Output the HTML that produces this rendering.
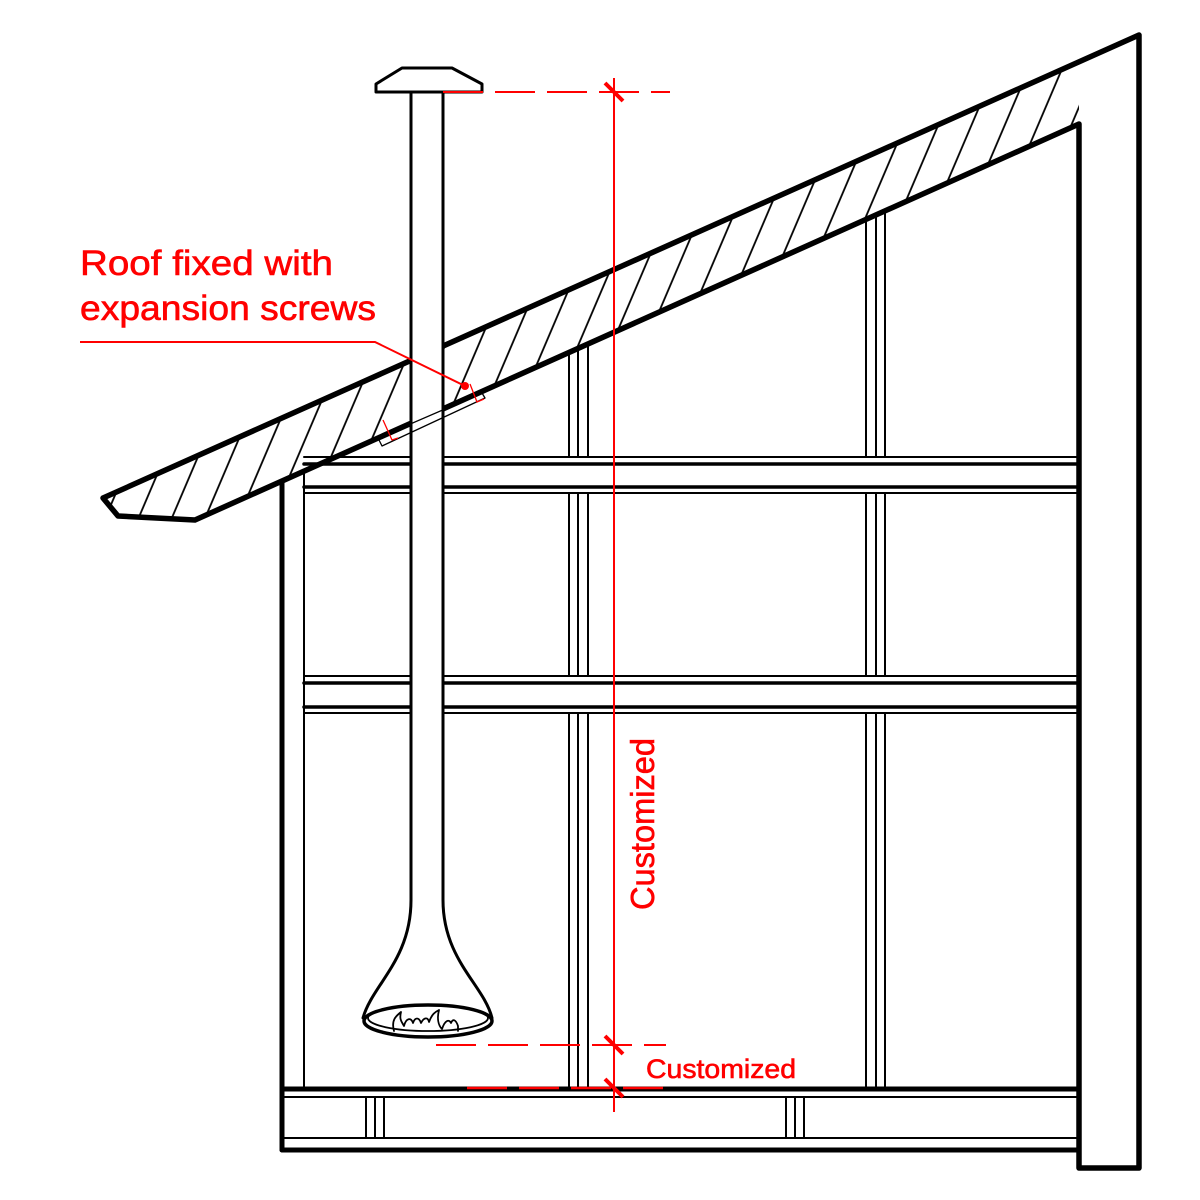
<!DOCTYPE html>
<html><head><meta charset="utf-8"><style>html,body{margin:0;padding:0;background:#fff}svg{display:block}</style></head>
<body>
<svg width="1200" height="1200" viewBox="0 0 1200 1200" xmlns="http://www.w3.org/2000/svg">
<defs>
<pattern id="h" patternUnits="userSpaceOnUse" width="30.6" height="20" patternTransform="rotate(23.1)">
<line x1="24.7" y1="-5" x2="24.7" y2="25" stroke="#000" stroke-width="1.8"/>
</pattern>
<clipPath id="rc"><polygon points="103,498 1079,62 1079,124 195,520 118,516"/></clipPath>
</defs>
<rect width="1200" height="1200" fill="#fff"/>
<rect x="0" y="0" width="1200" height="600" fill="url(#h)" clip-path="url(#rc)"/>
<g fill="none" stroke="#000" stroke-linecap="round" stroke-linejoin="round">
<polyline points="195,520 118,516 103,498 1139,35 1139,1168 1079,1168 1079,124 195,520" stroke-width="5.5"/>
<line x1="282" y1="481" x2="282" y2="1150" stroke-width="5"/>
<line x1="282" y1="1150" x2="1079" y2="1150" stroke-width="5"/>
<line x1="304" y1="471" x2="304" y2="1088" stroke-width="2"/>
<line x1="304" y1="457" x2="1079" y2="457" stroke-width="2"/>
<line x1="304" y1="464" x2="1079" y2="464" stroke-width="3.5"/>
<line x1="304" y1="487" x2="1079" y2="487" stroke-width="3.5"/>
<line x1="304" y1="493" x2="1079" y2="493" stroke-width="2"/>
<line x1="304" y1="676" x2="1079" y2="676" stroke-width="2"/>
<line x1="304" y1="683" x2="1079" y2="683" stroke-width="3.5"/>
<line x1="304" y1="707" x2="1079" y2="707" stroke-width="3.5"/>
<line x1="304" y1="713" x2="1079" y2="713" stroke-width="2"/>
<line x1="282" y1="1089" x2="1079" y2="1089" stroke-width="5"/>
<line x1="282" y1="1097" x2="1079" y2="1097" stroke-width="2"/>
<line x1="282" y1="1138" x2="1079" y2="1138" stroke-width="2"/>
<path d="M366,1097V1138M375,1097V1138M384,1097V1138M786,1097V1138M795,1097V1138M804,1097V1138" stroke-width="2"/>
<path d="M569,352V457M578,348V457M588,343V457M569,493V676M578,493V676M588,493V676M569,713V1089M578,713V1089M588,713V1089" stroke-width="2"/>
<path d="M866,219V457M876,214V457M885,210V457M866,493V676M876,493V676M885,493V676M866,713V1089M876,713V1089M885,713V1089" stroke-width="2"/>
</g>
<path d="M411,92 V900 C411,960 372,985 363,1018 L492,1018 C484,985 443,960 443,900 V92 Z" fill="#fff"/>
<g fill="none" stroke="#000" stroke-linecap="round" stroke-linejoin="round">
<path d="M411,92 V900 C411,960 372,985 363,1018" stroke-width="3"/>
<path d="M443,92 V900 C443,960 484,985 492,1018" stroke-width="3"/>
<polygon points="376,92 376,84 402,68 452,68 482,84 482,92" fill="#fff" stroke-width="3"/>
<ellipse cx="428" cy="1021" rx="64" ry="16" stroke-width="3.5"/>
<ellipse cx="428" cy="1018" rx="60" ry="13" stroke-width="1.8"/>
<path d="M394,1031 C391,1020 396,1016 401,1012 C399,1020 402,1022 404,1026 C406,1018 411,1017 413,1023 C415,1017 419,1017 421,1023 C424,1017 428,1017 429,1022 C432,1014 435,1012 439,1010 C437,1018 438,1025 442,1029 C445,1020 449,1019 451,1023 C453,1018 456,1020 458,1026 V1031" stroke-width="1.8"/>
<polygon points="378,438 382,446 485,398 482,393" fill="none" stroke-width="1.3"/>
</g>
<g stroke="#f00" fill="none">
<line x1="614" y1="78" x2="614" y2="1112" stroke-width="2"/>
<line x1="443" y1="92" x2="670" y2="92" stroke-width="2" stroke-dasharray="40,12"/>
<line x1="436" y1="1045" x2="666" y2="1045" stroke-width="2" stroke-dasharray="40,12"/>
<line x1="467" y1="1088" x2="670" y2="1088" stroke-width="2.5" stroke-dasharray="40,12"/>
<path d="M605,83L623,101M605,1036L623,1054M605,1079L623,1097" stroke-width="4"/>
<polyline points="80,342 375,342 465,386" stroke-width="2"/>
<path d="M383,420L392,440L398,438M470,384L477,402L484,399" stroke-width="1.3"/>
</g>
<circle cx="465" cy="386" r="4" fill="#f00"/>
<g fill="#f00" stroke="#f00" stroke-width="0.6" font-family="Liberation Sans, sans-serif">
<text x="80" y="275" font-size="35" textLength="253" lengthAdjust="spacingAndGlyphs">Roof fixed with</text>
<text x="80" y="320" font-size="35" textLength="296" lengthAdjust="spacingAndGlyphs">expansion screws</text>
<text x="646" y="1078" font-size="27" textLength="150" lengthAdjust="spacingAndGlyphs">Customized</text>
<text transform="translate(654,910) rotate(-90)" font-size="33" textLength="172" lengthAdjust="spacingAndGlyphs">Customized</text>
</g>
</svg>
</body></html>
